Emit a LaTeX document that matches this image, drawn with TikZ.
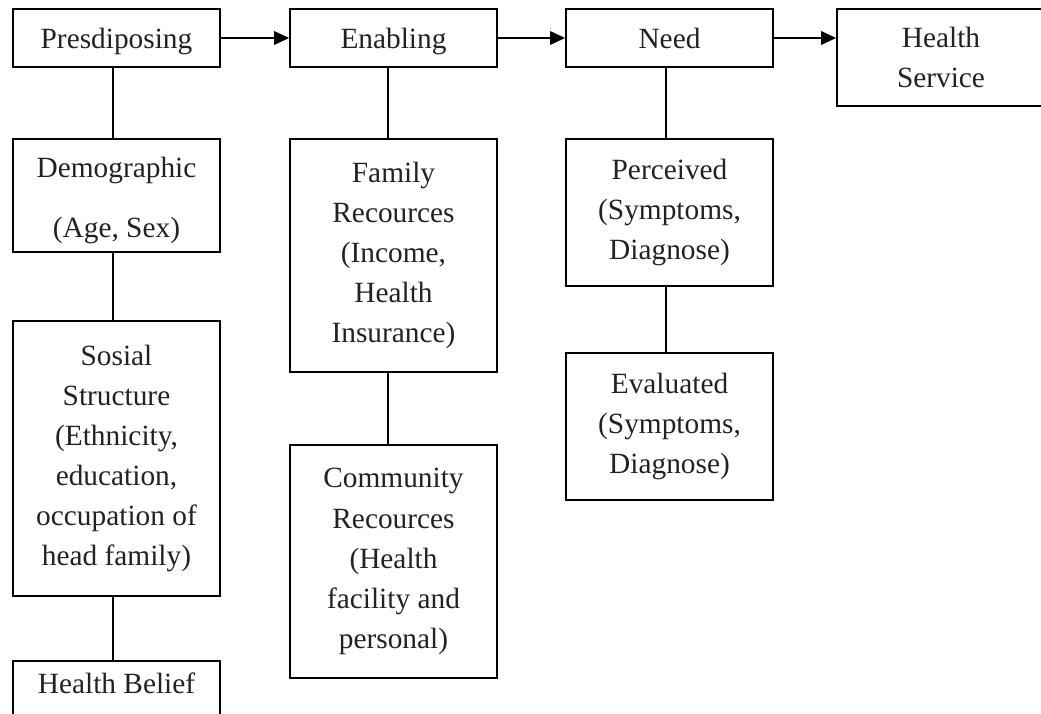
\documentclass[tikz,border=0pt]{standalone}
\usepackage{fontspec}
\setmainfont{Liberation Serif}
\usetikzlibrary{arrows.meta}
\definecolor{inkgray}{HTML}{222222}
\tikzset{
  box/.style={draw=black,line width=1pt,align=center,inner sep=0pt,text=inkgray,
    font=\fontsize{16.7}{22.8}\selectfont,minimum width=4.14cm},
  oneline/.style={text height=0.48cm,text depth=0.06cm},
  arr/.style={line width=1pt,-{Triangle[length=0.3cm,width=0.27cm]}},
  link/.style={line width=1pt}
}
\begin{document}
\begin{tikzpicture}
    \useasboundingbox (0,0) rectangle (20.82,-14.26);
    \clip (0,0) rectangle (20.82,-14.26);
    % top row
    \node[box,oneline,minimum height=1.16cm] (pres) at (2.33,-0.76) {Presdiposing};
    \node[box,oneline,minimum height=1.16cm] (enab) at (7.87,-0.76) {Enabling};
    \node[box,oneline,minimum height=1.16cm] (need) at (13.39,-0.76) {Need};
    \node[box,minimum height=1.94cm,minimum width=4.16cm] (serv) at (18.82,-1.15) {Health\\Service};
    % predisposing column
    \node[box,minimum height=2.26cm] (demo) at (2.33,-3.91) {\rule{0pt}{0.62cm}Demographic\\[0.4cm](Age, Sex)};
    \node[box,minimum height=5.5cm] (sosi) at (2.33,-9.17) {Sosial\\Structure\\(Ethnicity,\\education,\\occupation of\\head family)};
    \node[box,minimum height=2.26cm,anchor=north] (belief) at (2.33,-13.2) {};
    \node[oneline,text=inkgray,font=\fontsize{16.7}{22.8}\selectfont] (belieftxt) at (2.33,-13.66) {Health Belief};
    % enabling column
    \node[box,minimum height=4.66cm] (fami) at (7.87,-5.11) {Family\\Recources\\(Income,\\Health\\Insurance)};
    \node[box,minimum height=4.66cm] (comm) at (7.87,-11.23) {Community\\Recources\\(Health\\facility and\\personal)};
    % need column
    \node[box,minimum height=2.94cm] (perc) at (13.39,-4.25) {Perceived\\(Symptoms,\\Diagnose)};
    \node[box,minimum height=2.94cm] (eval) at (13.39,-8.53) {Evaluated\\(Symptoms,\\Diagnose)};
    % connectors
    \draw[arr] (pres) -- (enab);
    \draw[arr] (enab) -- (need);
    \draw[arr] (need.east) -- (need.east -| serv.west);
    \draw[link] ([xshift=-2pt]pres.south) -- ([xshift=-2pt]demo.north);
    \draw[link] ([xshift=-2pt]demo.south) -- ([xshift=-2pt]sosi.north);
    \draw[link] ([xshift=-2pt]sosi.south) -- ([xshift=-2pt]belief.north);
    \draw[link] ([xshift=-3pt]enab.south) -- ([xshift=-3pt]fami.north);
    \draw[link] ([xshift=-3pt]fami.south) -- ([xshift=-3pt]comm.north);
    \draw[link] ([xshift=-2pt]need.south) -- ([xshift=-2pt]perc.north);
    \draw[link] ([xshift=-2pt]perc.south) -- ([xshift=-2pt]eval.north);
\end{tikzpicture}
\end{document}
